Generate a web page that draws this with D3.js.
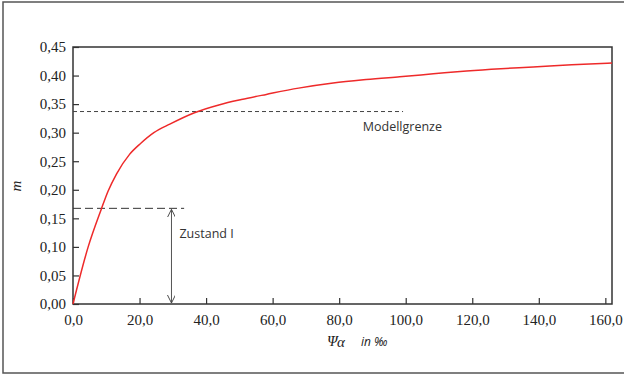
<!DOCTYPE html>
<html>
<head>
<meta charset="utf-8">
<script src="https://cdn.jsdelivr.net/npm/d3@7"></script>
<style>
  body { margin: 0; background: #fff; }
</style>
</head>
<body>
<svg width="624" height="378"></svg>
<script>
// values
const psiValues = [0, 4.56, 8.5, 10.5, 13.1, 17.0, 20.3, 24.3, 29.1, 36.5, 44.1, 50.6, 58.1, 67.8, 78.2, 88.1, 98.2, 108.3, 118.3, 128.6, 138.3, 149.9, 162];
const mValues   = [0, 0.10, 0.166, 0.197, 0.228, 0.262, 0.281, 0.300, 0.315, 0.335, 0.349, 0.358, 0.367, 0.378, 0.387, 0.393, 0.398, 0.403, 0.408, 0.412, 0.415, 0.419, 0.422];
const xTicks = [0, 20, 40, 60, 80, 100, 120, 140, 160];
const yTicks = [0, 0.05, 0.10, 0.15, 0.20, 0.25, 0.30, 0.35, 0.40, 0.45];
const modellgrenze = { m: 0.337, psiEnd: 99.2 };
const zustand = { m: 0.1675, psiEnd: 33.4, psiArrow: 29.6 };

const margin = { left: 73, right: 12, top: 47, bottom: 74 };
const svg = d3.select('svg');
const width = +svg.attr('width');
const height = +svg.attr('height');
const innerWidth = width - margin.left - margin.right;
const innerHeight = height - margin.top - margin.bottom;

// outer frame (right edge runs off the picture)
svg.append('rect')
  .attr('x', 3).attr('y', 2)
  .attr('width', 630).attr('height', 371)
  .attr('fill', 'none')
  .attr('stroke', '#555')
  .attr('stroke-width', 1.5);

const g = svg.append('g')
  .attr('transform', `translate(${margin.left},${margin.top})`);

// the frame runs a little past the 160 tick
const xScale = d3.scaleLinear().domain([0, 162]).range([0, innerWidth]);
const yScale = d3.scaleLinear().domain([0, 0.45]).range([innerHeight, 0]);

const fmt = d => d3.format('.1f')(d).replace('.', ',');
const fmtY = d => d3.format('.2f')(d).replace('.', ',');

const xAxis = d3.axisBottom(xScale)
  .tickValues(xTicks)
  .tickSize(-6)
  .tickPadding(10)
  .tickFormat(fmt);
const yAxis = d3.axisLeft(yScale)
  .tickValues(yTicks)
  .tickSize(-6)
  .tickPadding(7)
  .tickFormat(fmtY);

const xAxisG = g.append('g')
  .attr('transform', `translate(0,${innerHeight})`)
  .call(xAxis);
const yAxisG = g.append('g').call(yAxis);
[xAxisG, yAxisG].forEach(a => {
  a.select('.domain').remove();
  a.selectAll('.tick line').attr('stroke', '#333').attr('stroke-width', 1.2);
  a.selectAll('.tick text')
    .attr('fill', '#222')
    .style('font-family', '"Liberation Serif", "DejaVu Serif", serif')
    .style('font-size', '15px');
});

// plot frame
g.append('rect')
  .attr('width', innerWidth).attr('height', innerHeight)
  .attr('fill', 'none')
  .attr('stroke', '#333')
  .attr('stroke-width', 1.5);

// Modellgrenze
g.append('line')
  .attr('x1', 0).attr('x2', xScale(modellgrenze.psiEnd))
  .attr('y1', yScale(modellgrenze.m)).attr('y2', yScale(modellgrenze.m))
  .attr('stroke', '#444').attr('stroke-width', 1)
  .attr('stroke-dasharray', '4,3');
g.append('text')
  .attr('x', xScale(99)).attr('y', yScale(modellgrenze.m) + 19)
  .attr('text-anchor', 'middle')
  .attr('font-family', '"Open Sans", sans-serif')
  .attr('font-size', 12.5)
  .attr('fill', '#333')
  .text('Modellgrenze');

// Zustand I
g.append('line')
  .attr('x1', 0).attr('x2', xScale(zustand.psiEnd))
  .attr('y1', yScale(zustand.m)).attr('y2', yScale(zustand.m))
  .attr('stroke', '#333').attr('stroke-width', 1)
  .attr('stroke-dasharray', '8,4');

const defs = svg.append('defs');
defs.append('marker')
  .attr('id', 'arr')
  .attr('viewBox', '0 0 10 10')
  .attr('refX', 10).attr('refY', 5)
  .attr('markerWidth', 8).attr('markerHeight', 8)
  .attr('markerUnits', 'userSpaceOnUse')
  .attr('orient', 'auto-start-reverse')
  .append('path')
  .attr('d', 'M0,0 L10,5 L0,10')
  .attr('fill', 'none')
  .attr('stroke', '#444')
  .attr('stroke-width', 1.2);

g.append('line')
  .attr('x1', xScale(zustand.psiArrow)).attr('x2', xScale(zustand.psiArrow))
  .attr('y1', yScale(zustand.m) + 1).attr('y2', yScale(0) - 1)
  .attr('stroke', '#555').attr('stroke-width', 1)
  .attr('marker-start', 'url(#arr)')
  .attr('marker-end', 'url(#arr)');
g.append('text')
  .attr('x', xScale(zustand.psiArrow) + 8).attr('y', yScale(0.12) + 3)
  .attr('font-family', '"Open Sans", sans-serif')
  .attr('font-size', 12.5)
  .attr('fill', '#333')
  .text('Zustand I');

// curve
const data = psiValues.map((p, i) => ({ psi: p, m: mValues[i] }));
const line = d3.line()
  .x(d => xScale(d.psi))
  .y(d => yScale(d.m))
  .curve(d3.curveMonotoneX);
g.append('path')
  .datum(data)
  .attr('d', line)
  .attr('fill', 'none')
  .attr('stroke', '#ee2a2a')
  .attr('stroke-width', 1.5);

// axis titles
const xt = svg.append('text')
  .attr('x', 327).attr('y', 346)
  .attr('fill', '#222')
  .attr('font-style', 'italic');
xt.append('tspan')
  .attr('font-family', '"Liberation Serif", serif')
  .attr('font-size', 15)
  .text('Ψ');
xt.append('tspan')
  .attr('font-family', '"Liberation Serif", serif')
  .attr('font-size', 15)
  .attr('dy', 1)
  .text('α');
xt.append('tspan')
  .attr('x', 361).attr('dy', -1)
  .attr('font-family', '"Open Sans", sans-serif')
  .attr('font-size', 12)
  .text('in ‰');

svg.append('text')
  .attr('transform', 'translate(21,186) rotate(-90)')
  .attr('text-anchor', 'middle')
  .attr('font-family', '"Liberation Serif", serif')
  .attr('font-style', 'italic')
  .attr('font-size', 15)
  .attr('fill', '#222')
  .text('m');
</script>
</body>
</html>
